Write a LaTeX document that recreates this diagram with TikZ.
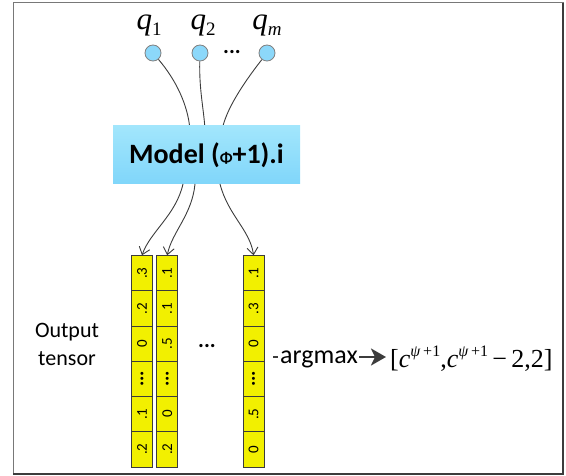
\documentclass[tikz,border=0pt]{standalone}
\usepackage{fontspec}
\setmainfont{Carlito}
\newfontfamily\tms{Liberation Serif}
\usetikzlibrary{arrows.meta}
\definecolor{linec}{RGB}{60,60,60}
\definecolor{boxtop}{RGB}{162,230,252}
\definecolor{boxbot}{RGB}{128,214,250}
\definecolor{qfill}{RGB}{140,216,250}
\definecolor{cellfill}{RGB}{242,240,0}
\definecolor{framec}{RGB}{120,120,120}
\newcommand\mysub[1]{\raisebox{-6pt}{\fontsize{19}{19}\selectfont #1}}
\newcommand\mysup[1]{\raisebox{11pt}{\fontsize{16}{16}\selectfont #1}}
\newcommand\celldots{{\bfseries\fontsize{20}{20}\selectfont...}}
\tikzset{
  conn/.style={draw=linec, line width=0.9pt},
  connarr/.style={conn, -{Straight Barb[length=7pt,width=11pt,line width=0.9pt]}},
  bigarr/.style={draw=linec, line width=2.6pt, -{Stealth[length=15pt,width=17pt,inset=4pt]}},
  qdot/.style={circle, draw=gray, fill=qfill, line width=0.8pt, minimum size=16pt, inner sep=0pt},
  qlbl/.style={font=\tms\fontsize{31}{33}\selectfont\itshape, inner sep=0pt, anchor=base},
  modelbox/.style={rectangle, top color=boxtop, bottom color=boxbot, draw=none,
    minimum width=187pt, minimum height=58pt, font=\bfseries\fontsize{28}{30}\selectfont},
  cell/.style={rectangle, draw=linec, fill=cellfill, line width=0.8pt, rotate=90,
    minimum width=35.2pt, minimum height=20.7pt, inner sep=0pt, font=\fontsize{15}{15}\selectfont},
  lbl/.style={font=\fontsize{22}{28}\selectfont, align=center, inner sep=0pt},
  dots/.style={font=\bfseries\fontsize{22}{22}\selectfont, inner sep=0pt}
}
\begin{document}
\begin{tikzpicture}[x=1pt,y=-1pt]
\useasboundingbox (0,0) rectangle (566,476);
% frame
\draw[framec, line width=1pt] (13,3) rectangle (563,474);
\draw[linec, line width=2pt] (563,3) -- (563,474) -- (13,474);

% query labels
\node[qlbl] (q1) at (149,30) {q\mysub{\upshape 1}};
\node[qlbl] (q2) at (203,30) {q\mysub{\upshape 2}};
\node[qlbl] (qm) at (267,30) {q\mysub{m}};

% query circles
\node[qdot] (i1) at (153,53) {};
\node[qdot] (i2) at (200,53) {};
\node[qdot] (i3) at (267,53) {};
\node[dots] (qd) at (232,52) {...};

% curves into model
\coordinate (t1) at (190,130);
\coordinate (t2) at (205,130);
\coordinate (t3) at (222,130);
\draw[conn] (i1) .. controls (176,80) and (188,105) .. (t1);
\draw[conn] (i2) .. controls (199,90) and (204,110) .. (t2);
\draw[conn] (i3) .. controls (242,85) and (226,110) .. (t3);

% model box
\node[modelbox] (model) at (206.5,155) {Model ({\fontsize{16}{16}\selectfont Φ}+1).i};

% tensors
\foreach \v [count=\i] in {.3,.2,0,\celldots,.1,.2}
  \node[cell] (a\i) at (142,{255.7+35.2*(\i-0.5)}) {\v};
\foreach \v [count=\i] in {.1,.1,.5,\celldots,0,.2}
  \node[cell] (b\i) at (167.2,{255.7+35.2*(\i-0.5)}) {\v};
\foreach \v [count=\i] in {.1,.3,0,\celldots,.5,0}
  \node[cell] (c\i) at (253.6,{255.7+35.2*(\i-0.5)}) {\v};
\node[dots] (td) at (207,346) {...};

% curves out of model
\coordinate (s1) at (183,184);
\coordinate (s2) at (195,184);
\coordinate (s3) at (220,184);
\draw[connarr] (s1) .. controls (176,215) and (150,232) .. (a1.east);
\draw[connarr] (s2) .. controls (192,215) and (172,232) .. (b1.east);
\draw[connarr] (s3) .. controls (228,215) and (250,230) .. (c1.east);

% output label
\node[lbl] (out) at (67,344) {Output\\tensor};

% argmax
\node[font=\fontsize{26}{28}\selectfont, inner sep=0pt, anchor=base west] (am) at (280,364) {argmax};
\coordinate (d0) at (273,357);
\draw[conn, line width=1.2pt] (d0) -- ([xshift=-2pt]d0 -| am.west);
\node[font=\tms\fontsize{26}{28}\selectfont, inner sep=0pt, anchor=base west] (res) at (390,367)
  {[\textit{c}\mysup{\textit{ψ}\,+1},\textit{c}\mysup{\textit{ψ}\,+1}\,−\,2,2]};
\draw[bigarr] ([xshift=1pt]am.east |- d0) -- ([xshift=-4pt]res.west |- d0);
\end{tikzpicture}
\end{document}
